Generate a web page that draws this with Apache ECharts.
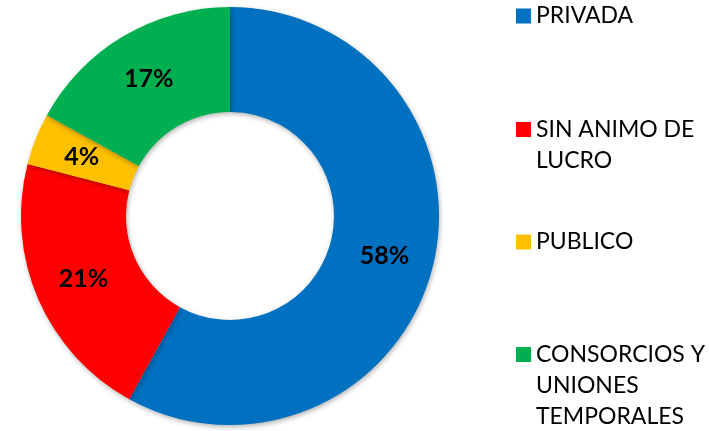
<!DOCTYPE html>
<html>
<head>
<meta charset="utf-8">
<script src="https://cdn.jsdelivr.net/npm/echarts@6/dist/echarts.min.js"></script>
<style>
  html, body { margin: 0; padding: 0; background: #fff; }
  #chart { width: 709px; height: 431px; }
</style>
</head>
<body>
<div id="chart"></div>
<script>
var categories = ["PRIVADA", "SIN ANIMO DE LUCRO", "PUBLICO", "CONSORCIOS Y UNIONES TEMPORALES"];
var legendLabels = ["PRIVADA", "SIN ANIMO DE\nLUCRO", "PUBLICO", "CONSORCIOS Y\nUNIONES\nTEMPORALES"];
var values = [58, 21, 4, 17];
var colors = ["#0070C0", "#FF0000", "#FFC000", "#00B050"];

var legendTops = [0.5, 83, 226.5, 277];
var lineH = 31;

var myChart = echarts.init(document.getElementById("chart"));

// one legend per item so each can sit at its own height;
// blank lines in front keep the square level with the first text line
var legends = categories.map(function (name, i) {
  var lines = legendLabels[i].split("\n").length;
  var lead = new Array(lines).join("\n");
  return {
    orient: "vertical",
    left: 516,
    top: legendTops[i],
    padding: 0,
    itemWidth: 15,
    itemHeight: 15,
    icon: "rect",
    selectedMode: false,
    data: [name],
    formatter: function () { return lead + legendLabels[i]; },
    textStyle: {
      fontFamily: "Lato",
      fontSize: 23,
      color: "#000",
      lineHeight: lineH
    }
  };
});

myChart.setOption({
  animation: false,
  color: colors,
  legend: legends,
  series: [
    {
      type: "pie",
      center: [230, 216],
      radius: [104, 209],
      startAngle: 90,
      clockwise: true,
      data: categories.map(function (name, i) {
        return { name: name, value: values[i] };
      }),
      label: {
        show: true,
        position: "inside",
        formatter: "{c}%",
        fontFamily: "Lato",
        fontWeight: "bold",
        fontSize: 25,
        color: "#000"
      },
      labelLine: { show: false },
      itemStyle: {
        borderWidth: 0,
        shadowBlur: 5,
        shadowOffsetX: 1,
        shadowOffsetY: 2,
        shadowColor: "rgba(0,0,0,0.3)"
      },
      emphasis: { disabled: true }
    }
  ]
});
</script>
</body>
</html>
